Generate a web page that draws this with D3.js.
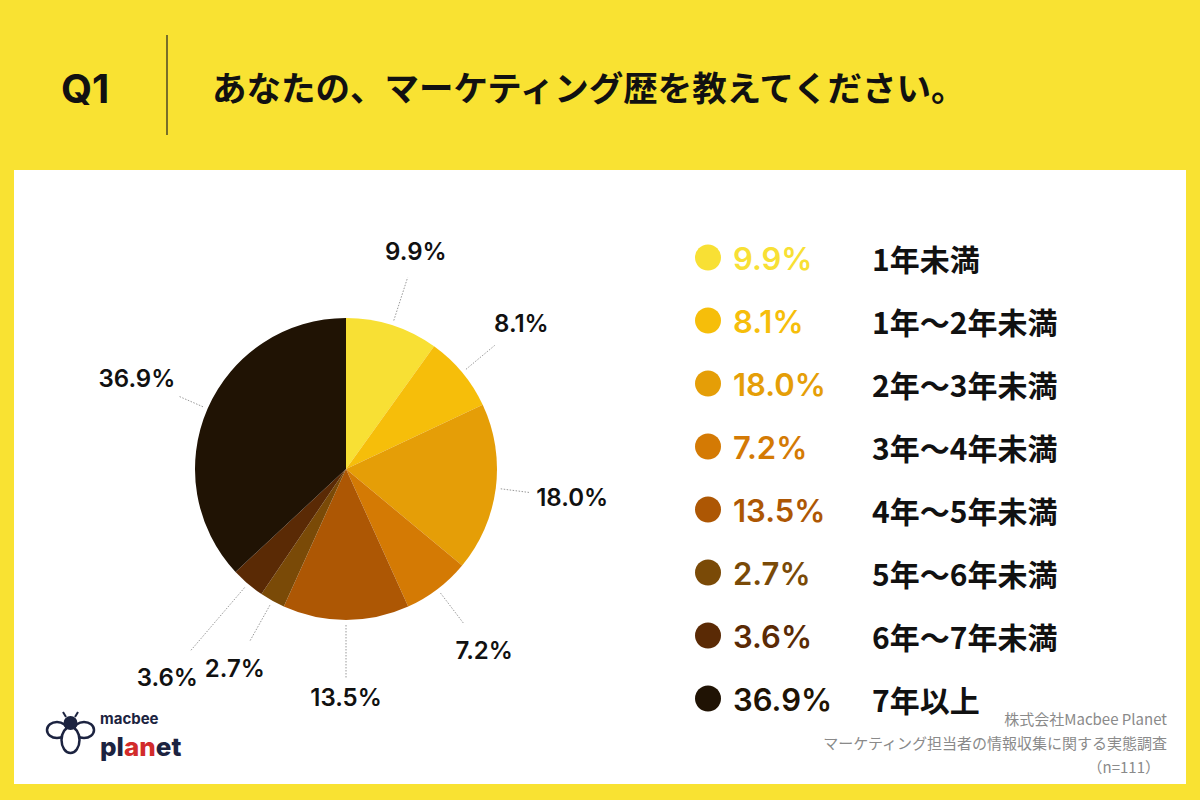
<!DOCTYPE html>
<html>
<head>
<meta charset="utf-8">
<script src="https://cdn.jsdelivr.net/npm/d3@7"></script>
<style>
  body { margin: 0; background: #F9E232; }
  svg { display: block; }
</style>
</head>
<body>
<div id="chart"></div>
<script>
// data
var categories = ['1年未満', '1年〜2年未満', '2年〜3年未満', '3年〜4年未満',
                  '4年〜5年未満', '5年〜6年未満', '6年〜7年未満', '7年以上'];
var values = [9.9, 8.1, 18.0, 7.2, 13.5, 2.7, 3.6, 36.9];
var colors = ['#F8E034', '#F6BE0A', '#E59E07', '#D47A04', '#AD5704', '#7A4A07', '#5A2A05', '#201304'];

var title = 'あなたの、マーケティング歴を教えてください。';
var notes = ['株式会社Macbee Planet', 'マーケティング担当者の情報収集に関する実態調査', '（n=111）'];

var W = 1200, H = 800;
var font = "'Noto Sans CJK JP', 'Noto Sans', sans-serif";
var numFont = "Inter, 'Noto Sans', sans-serif";

document.addEventListener('DOMContentLoaded', function () {
  draw();
}, false);

function fmt(v) { return v.toFixed(1) + '%'; }

function draw() {
  var svg = d3.select('#chart').append('svg')
    .attr('width', W).attr('height', H)
    .style('font-family', font);

  svg.append('rect').attr('width', W).attr('height', H).attr('fill', '#F9E232');

  // header
  svg.append('text').attr('x', 61).attr('y', 103)
    .attr('font-family', numFont)
    .attr('font-size', 40).attr('font-weight', 700).attr('fill', '#111')
    .text('Q1');
  svg.append('line').attr('x1', 167).attr('x2', 167).attr('y1', 35).attr('y2', 135)
    .attr('stroke', '#222').attr('stroke-width', 1.2);
  svg.append('text').attr('x', 212).attr('y', 101)
    .attr('font-size', 34.5).attr('font-weight', 700).attr('fill', '#111')
    .text(title);

  // white panel
  svg.append('rect').attr('x', 14).attr('y', 170).attr('width', 1172).attr('height', 614)
    .attr('fill', '#fff');

  // pie
  var cx = 346, cy = 469, r = 151;
  var pie = d3.pie().sort(null).value(function(d){ return d; });
  var arcs = pie(values);
  var arc = d3.arc().innerRadius(0).outerRadius(r);

  var g = svg.append('g').attr('transform', 'translate(' + cx + ',' + cy + ')');
  g.selectAll('path')
    .data(arcs)
    .enter()
    .append('path')
    .attr('d', arc)
    .attr('fill', function(d, i){ return colors[i]; });

  // labels with leader lines
  var labelR = 228;
  var push = { 6: 47 }; // 3.6% is pushed out so it clears 2.7%
  arcs.forEach(function(d, i) {
    var a = (d.startAngle + d.endAngle) / 2;
    var s = Math.sin(a), c = -Math.cos(a);
    var lr = labelR + (push[i] || 0);
    var t = g.append('text')
      .attr('x', lr * s).attr('y', lr * c)
      .attr('text-anchor', 'middle').attr('dominant-baseline', 'central')
      .attr('font-family', numFont)
      .attr('font-size', 24).attr('font-weight', 600).attr('fill', '#111')
      .text(fmt(values[i]));
    var hw = t.node().getComputedTextLength() / 2;
    var end = lr - (12 * Math.abs(c) + hw * Math.abs(s)) - 6;
    g.append('line')
      .attr('x1', (r + 5) * s).attr('y1', (r + 5) * c)
      .attr('x2', end * s).attr('y2', end * c)
      .attr('stroke', '#999').attr('stroke-width', 1)
      .attr('stroke-dasharray', '1.5,1.5');
  });

  // legend
  var y = d3.scaleBand().domain(d3.range(categories.length)).range([226, 730]);
  var leg = svg.append('g').selectAll('g')
    .data(categories)
    .enter()
    .append('g')
    .attr('transform', function(d, i){ return 'translate(0,' + (y(i) + y.bandwidth() / 2) + ')'; });
  leg.append('circle').attr('cx', 708).attr('cy', 0).attr('r', 13)
    .attr('fill', function(d, i){ return colors[i]; });
  leg.append('text').attr('x', 733).attr('y', 1).attr('dominant-baseline', 'central')
    .attr('font-family', numFont)
    .attr('font-size', 31).attr('font-weight', 600)
    .attr('fill', function(d, i){ return colors[i]; })
    .text(function(d, i){ return fmt(values[i]); });
  leg.append('text').attr('x', 872).attr('y', 0).attr('dominant-baseline', 'central')
    .attr('font-size', 30).attr('font-weight', 700).attr('fill', '#111')
    .text(function(d){ return d; });

  // notes
  svg.append('g').selectAll('text')
    .data(notes)
    .enter()
    .append('text')
    .attr('x', function(d, i){ return i == 2 ? 1160 : 1167; })
    .attr('y', function(d, i){ return 725 + i * 24; })
    .attr('text-anchor', 'end')
    .attr('font-size', 15).attr('fill', '#8a8a8a')
    .text(function(d){ return d; });

  // logo
  var logo = svg.append('g').attr('transform', 'translate(47,712)');
  var navy = '#1c2340';
  logo.append('ellipse').attr('cx', 10).attr('cy', 18).attr('rx', 10).attr('ry', 8)
    .attr('fill', 'none').attr('stroke', navy).attr('stroke-width', 2.5);
  logo.append('ellipse').attr('cx', 37).attr('cy', 18).attr('rx', 10).attr('ry', 8)
    .attr('fill', 'none').attr('stroke', navy).attr('stroke-width', 2.5);
  logo.append('ellipse').attr('cx', 23.5).attr('cy', 28).attr('rx', 9).attr('ry', 13)
    .attr('fill', '#fff').attr('stroke', navy).attr('stroke-width', 2.5);
  logo.append('circle').attr('cx', 23.5).attr('cy', 11).attr('r', 7).attr('fill', navy);
  logo.append('line').attr('x1', 19).attr('y1', 5).attr('x2', 16).attr('y2', 0)
    .attr('stroke', navy).attr('stroke-width', 2);
  logo.append('line').attr('x1', 28).attr('y1', 5).attr('x2', 31).attr('y2', 0)
    .attr('stroke', navy).attr('stroke-width', 2);
  logo.append('text').attr('x', 53).attr('y', 12)
    .attr('font-family', numFont).attr('font-size', 15).attr('font-weight', 700)
    .attr('fill', navy).text('macbee');
  var pl = logo.append('text').attr('x', 53).attr('y', 44)
    .attr('font-family', numFont).attr('font-size', 26).attr('font-weight', 800)
    .attr('fill', navy);
  pl.append('tspan').text('pl');
  pl.append('tspan').attr('fill', '#d22b2b').text('an');
  pl.append('tspan').text('et');
}
</script>
</body>
</html>
